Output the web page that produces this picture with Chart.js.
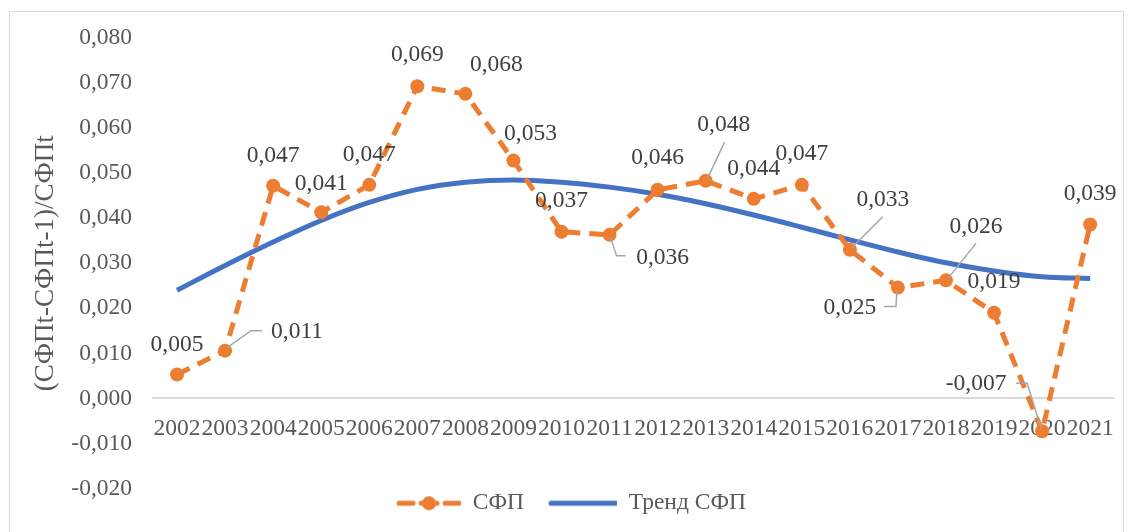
<!DOCTYPE html>
<html>
<head>
<meta charset="utf-8">
<script src="https://cdn.jsdelivr.net/npm/chart.js@4"></script>
<style>
  body { margin: 0; background: #fff; }
  #wrap { position: relative; width: 1130px; height: 532px; overflow: hidden; }
  #frame { position: absolute; left: 9px; top: 11px; width: 1113px; height: 540px; border: 1px solid #d9d9d9; pointer-events: none; }
</style>
</head>
<body>
<div id="wrap">
  <canvas id="chart" width="1130" height="532"></canvas>
  <div id="frame"></div>
</div>
<script>
// Годы и значения
const years = ['2002','2003','2004','2005','2006','2007','2008','2009','2010','2011',
               '2012','2013','2014','2015','2016','2017','2018','2019','2020','2021'];
const sfpValues = [0.0053, 0.0106, 0.0472, 0.0413, 0.0474, 0.0693, 0.0676, 0.0528, 0.0370, 0.0363,
                   0.0463, 0.0483, 0.0443, 0.0474, 0.0330, 0.0246, 0.0262, 0.0190, -0.0073, 0.0386];
const trendValues = [0.0240, 0.0295, 0.0347, 0.0395, 0.0435, 0.0464, 0.0480, 0.0485, 0.0480, 0.0469,
                     0.0453, 0.0432, 0.0407, 0.0380, 0.0352, 0.0325, 0.0301, 0.0283, 0.0270, 0.0266];
const yTicks = [-0.02, -0.01, 0, 0.01, 0.02, 0.03, 0.04, 0.05, 0.06, 0.07, 0.08];

// смещения подписей данных (центр текста относительно точки) и выноски
const labelOffsets = [[0,-30],[72,-19],[0,-30],[0,-29],[0,-30],[0,-31],[31,-29],[17,-27],[0,-31],[53,23],
                      [0,-32],[18,-56],[0,-30],[0,-31],[33,-50],[-48,20],[30,-54],[0,-31],[-66,-47],[0,-31]];
const leaders = {
  1: [[2,-3],[26,-20],[37,-20]],
  9: [[1,3],[7,21],[16,21]],
  11: [[2,-3],[19,-39]],
  14: [[2,-2],[33,-33]],
  15: [[-1,3],[-2,19],[-14,19]],
  16: [[2,-2],[30,-37]],
  18: [[-1,-3],[-15,-48],[-26,-48]]
};

const ORANGE = '#ED7D31';
const BLUE = '#4472C4';
const FONT = '"Liberation Serif", "Times New Roman", serif';
const FSIZE = 23.5;

function fmt(v) {
  return v.toFixed(3).replace('.', ',');
}

// значки для легенды (слева прозрачный отступ)
function legendIcon(color, dashed) {
  const c = document.createElement('canvas');
  c.width = 90; c.height = 16;
  const g = c.getContext('2d');
  g.strokeStyle = color;
  g.fillStyle = color;
  g.lineWidth = 5;
  g.lineCap = 'round';
  g.beginPath();
  if (dashed) {
    g.moveTo(28, 8); g.lineTo(42, 8);
    g.moveTo(74, 8); g.lineTo(88, 8);
    g.stroke();
    g.beginPath();
    g.arc(58, 8, 7, 0, Math.PI * 2);
    g.fill();
    g.beginPath();
    g.moveTo(50, 8); g.lineTo(66, 8);
    g.stroke();
  } else {
    g.moveTo(24, 8); g.lineTo(89, 8);
    g.stroke();
  }
  return c;
}
const icons = [legendIcon(ORANGE, true), legendIcon(BLUE, false)];

const dataLabels = {
  id: 'dataLabels',
  afterDatasetsDraw(chart) {
    const ctx = chart.ctx;
    const meta = chart.getDatasetMeta(0);
    ctx.save();
    ctx.font = FSIZE + 'px ' + FONT;
    ctx.fillStyle = '#404040';
    ctx.textAlign = 'center';
    ctx.textBaseline = 'middle';
    meta.data.forEach((pt, i) => {
      const off = labelOffsets[i];
      if (leaders[i]) {
        ctx.save();
        ctx.strokeStyle = '#a6a6a6';
        ctx.lineWidth = 1.5;
        ctx.beginPath();
        leaders[i].forEach((p, k) => {
          if (k === 0) ctx.moveTo(pt.x + p[0], pt.y + p[1]);
          else ctx.lineTo(pt.x + p[0], pt.y + p[1]);
        });
        ctx.stroke();
        ctx.restore();
      }
      ctx.fillText(fmt(sfpValues[i]), pt.x + off[0], pt.y + off[1]);
    });
    ctx.restore();
  }
};

new Chart(document.getElementById('chart'), {
  type: 'line',
  data: {
    labels: years,
    datasets: [{
      label: 'СФП',
      data: sfpValues,
      borderColor: ORANGE,
      backgroundColor: ORANGE,
      borderWidth: 5,
      borderDash: [14, 9],
      pointRadius: 7,
      pointBorderWidth: 0,
      pointBackgroundColor: ORANGE,
      tension: 0,
      order: 0
    }, {
      label: 'Тренд СФП',
      data: trendValues,
      borderColor: BLUE,
      backgroundColor: BLUE,
      borderWidth: 5,
      pointRadius: 0,
      tension: 0.4,
      order: 1
    }]
  },
  options: {
    responsive: false,
    animation: false,
    devicePixelRatio: 1,
    layout: { padding: { left: 0, top: 38, right: 13, bottom: 7 } },
    scales: {
      x: {
        position: { y: 0 },
        offset: true,
        grid: { display: false, drawTicks: false },
        border: { display: true, color: '#d9d9d9', width: 2 },
        ticks: {
          autoSkip: false,
          maxRotation: 0,
          padding: 16,
          color: '#595959',
          font: { family: FONT, size: FSIZE }
        }
      },
      y: {
        min: -0.02,
        max: 0.08,
        afterBuildTicks(scale) {
          scale.ticks = yTicks.map(v => ({ value: v }));
        },
        afterFit(scale) { scale.width = 153; },
        grid: { display: false, drawTicks: false },
        border: { display: false },
        ticks: {
          padding: 21,
          color: '#595959',
          font: { family: FONT, size: FSIZE },
          callback: v => fmt(v)
        },
        title: {
          display: true,
          text: '(СФПt-СФПt-1)/СФПt',
          color: '#595959',
          font: { family: FONT, size: 27 },
          padding: { top: 30, bottom: 0 }
        }
      }
    },
    plugins: {
      tooltip: { enabled: false },
      legend: {
        position: 'bottom',
        labels: {
          usePointStyle: true,
          pointStyleWidth: 90,
          padding: 3,
          color: '#595959',
          font: { family: FONT, size: FSIZE },
          generateLabels(chart) {
            const items = Chart.defaults.plugins.legend.labels.generateLabels(chart);
            items.forEach((it, i) => { it.pointStyle = icons[i]; });
            return items;
          }
        }
      }
    }
  },
  plugins: [dataLabels]
});
</script>
</body>
</html>
